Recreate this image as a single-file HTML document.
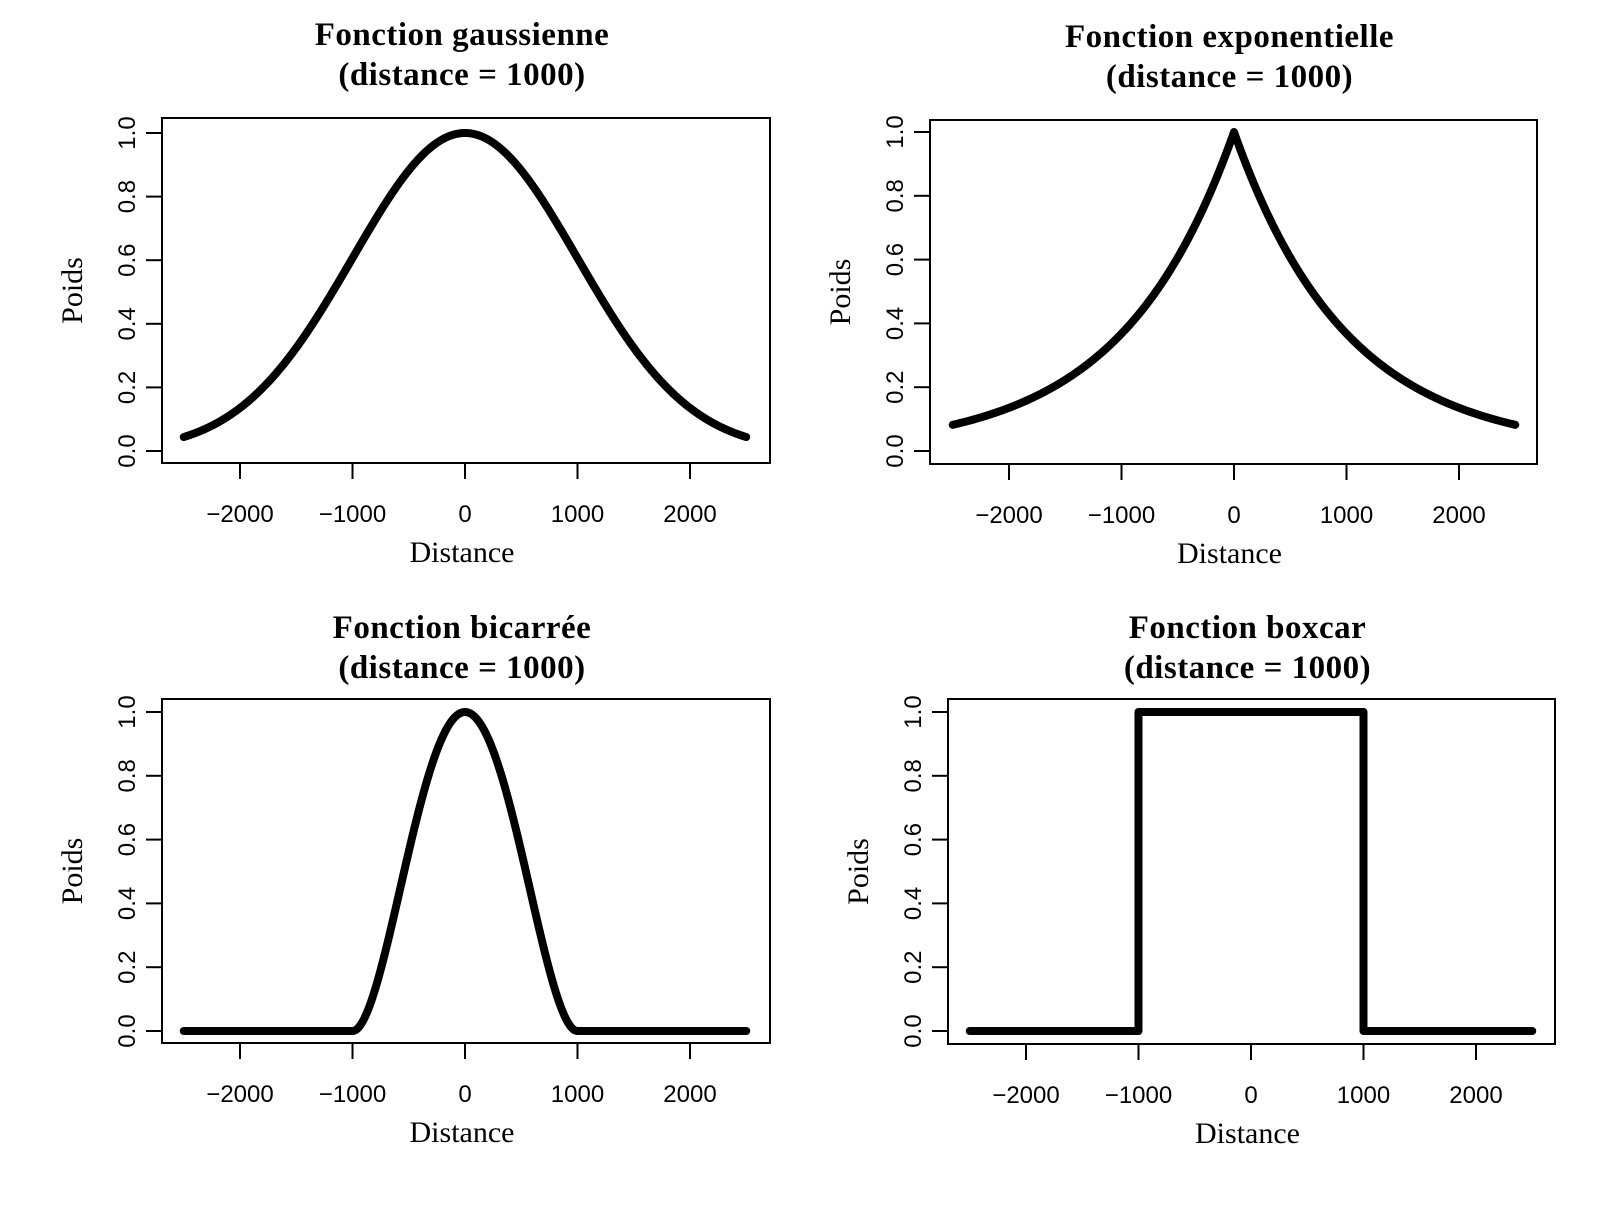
<!DOCTYPE html>
<html><head><meta charset="utf-8"><style>
body{margin:0;background:#fff}
svg text{fill:#000}
.t{font-family:"Liberation Serif",serif;font-weight:bold;font-size:33px;text-anchor:middle;letter-spacing:0.5px}
.k{font-family:"Liberation Sans",sans-serif;font-size:24px;text-anchor:middle}
.a{font-family:"Liberation Serif",serif;font-size:30px;text-anchor:middle}
</style></head><body>
<svg id="s" width="1599" height="1209" xmlns="http://www.w3.org/2000/svg"></svg>
<script>
var s=document.getElementById('s'),h='';
var P=[
 {L:162,R:770,T:118,B:463,x0:465,xs:0.1125,y1:133,y0:451,t:'Fonction gaussienne',ty:34,f:function(d){return Math.exp(-0.5*d*d/1e6)}},
 {L:930,R:1537,T:120,B:464,x0:1234,xs:0.1125,y1:132,y0:451,t:'Fonction exponentielle',ty:36,f:function(d){return Math.exp(-Math.abs(d)/1000)}},
 {L:162,R:770,T:699,B:1043,x0:465,xs:0.1125,y1:712,y0:1031,t:'Fonction bicarrée',ty:627,f:function(d){var u=d/1000;return Math.abs(u)<1?Math.pow(1-u*u,2):0}},
 {L:948,R:1555,T:699,B:1044,x0:1251,xs:0.1125,y1:712,y0:1031,t:'Fonction boxcar',ty:627,box:1}
];
P.forEach(function(p){
 var cx=(p.L+p.R)/2-4;
 h+='<text class="t" x="'+cx+'" y="'+(p.ty+11)+'">'+p.t+'</text>';
 h+='<text class="t" x="'+cx+'" y="'+(p.ty+51)+'">(distance = 1000)</text>';
 h+='<rect x="'+p.L+'" y="'+p.T+'" width="'+(p.R-p.L)+'" height="'+(p.B-p.T)+'" fill="none" stroke="#000" stroke-width="2"/>';
 function X(d){return p.x0+d*p.xs} function Y(v){return p.y0-(p.y0-p.y1)*v}
 for(var i=-2;i<=2;i++){var x=X(i*1000);h+='<line x1="'+x+'" y1="'+p.B+'" x2="'+x+'" y2="'+(p.B+16)+'" stroke="#000" stroke-width="2"/>';
  h+='<text class="k" x="'+x+'" y="'+(p.B+59)+'">'+(i<0?'\u2212':'')+Math.abs(i*1000)+'</text>';}
 for(var j=0;j<=5;j++){var y=Y(j/5);h+='<line x1="'+(p.L-16)+'" y1="'+y+'" x2="'+p.L+'" y2="'+y+'" stroke="#000" stroke-width="2"/>';
  var tx=p.L-36;h+='<text class="k" transform="translate('+tx+','+y+') rotate(-90)" y="9">'+(j/5).toFixed(1)+'</text>';}
 h+='<text class="a" x="'+cx+'" y="'+(p.B+99)+'">Distance</text>';
 h+='<text class="a" transform="translate('+(p.L-82)+','+((p.T+p.B)/2)+') rotate(-90)" y="2">Poids</text>';
 var d='';
 if(p.box){d='M'+X(-2500)+' '+Y(0)+'L'+X(-1000)+' '+Y(0)+'L'+X(-1000)+' '+Y(1)+'L'+X(1000)+' '+Y(1)+'L'+X(1000)+' '+Y(0)+'L'+X(2500)+' '+Y(0);}
 else{for(var k=0;k<=500;k++){var dd=-2500+k*10;d+=(k?'L':'M')+X(dd).toFixed(2)+' '+Y(p.f(dd)).toFixed(2);}}
 h+='<path d="'+d+'" fill="none" stroke="#000" stroke-width="8" stroke-linecap="round" stroke-linejoin="round"/>';
});
s.innerHTML=h;
</script>
</body></html>
